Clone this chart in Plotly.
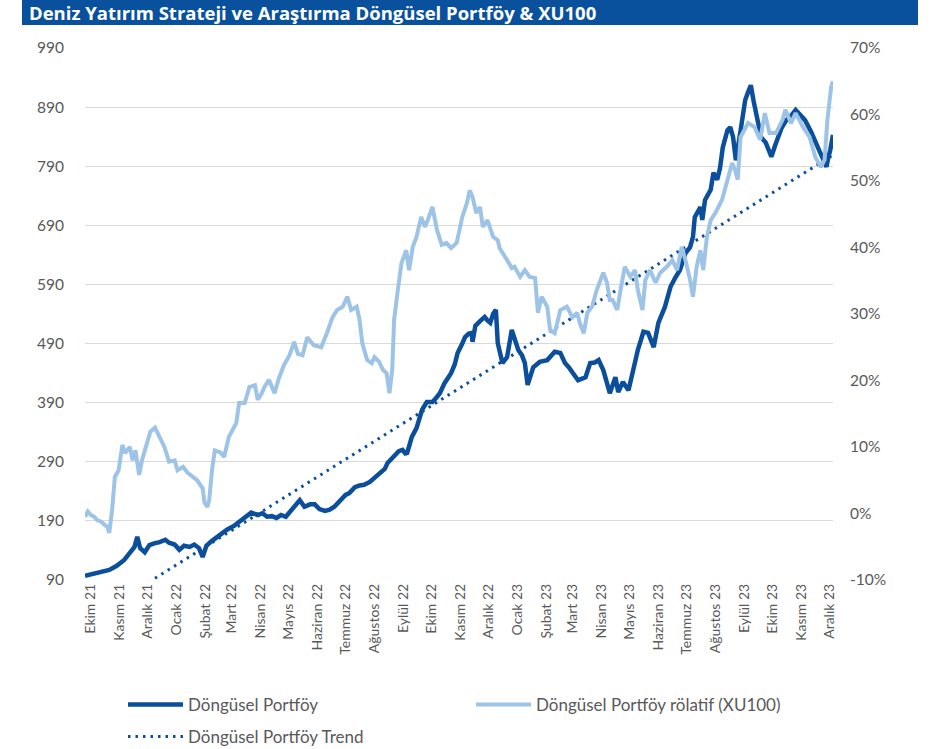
import plotly.graph_objects as go

# ---------------- data ----------------
month_labels = ["Ekim 21", "Kasım 21", "Aralık 21", "Ocak 22", "Şubat 22", "Mart 22", "Nisan 22",
                "Mayıs 22", "Haziran 22", "Temmuz 22", "Ağustos 22", "Eylül 22", "Ekim 22",
                "Kasım 22", "Aralık 22", "Ocak 23", "Şubat 23", "Mart 23", "Nisan 23", "Mayıs 23",
                "Haziran 23", "Temmuz 23", "Ağustos 23", "Eylül 23", "Ekim 23", "Kasım 23", "Aralık 23"]
month_dates = ["2021-10-01", "2021-11-01", "2021-12-01", "2022-01-01", "2022-02-01", "2022-03-01",
               "2022-04-01", "2022-05-01", "2022-06-01", "2022-07-01", "2022-08-01", "2022-09-01",
               "2022-10-01", "2022-11-01", "2022-12-01", "2023-01-01", "2023-02-01", "2023-03-01",
               "2023-04-01", "2023-05-01", "2023-06-01", "2023-07-01", "2023-08-01", "2023-09-01",
               "2023-10-01", "2023-11-01", "2023-12-01"]

left_ticks = [90, 190, 290, 390, 490, 590, 690, 790, 890, 990]
right_ticks = [-10, 0, 10, 20, 30, 40, 50, 60, 70]
right_labels = ["-10%", "0%", "10%", "20%", "30%", "40%", "50%", "60%", "70%"]

portfoy_dates = [
    "2021-09-25", "2021-10-02", "2021-10-11", "2021-10-21", "2021-10-29", "2021-11-06", "2021-11-12",
    "2021-11-17", "2021-11-20", "2021-11-23", "2021-11-28", "2021-12-03", "2021-12-08", "2021-12-14",
    "2021-12-20", "2021-12-24", "2021-12-30", "2022-01-04", "2022-01-09", "2022-01-15", "2022-01-20",
    "2022-01-25", "2022-01-29", "2022-02-02", "2022-02-07", "2022-02-13", "2022-02-18", "2022-02-24",
    "2022-03-04", "2022-03-12", "2022-03-18", "2022-03-22", "2022-03-29", "2022-04-03", "2022-04-08",
    "2022-04-13", "2022-04-18", "2022-04-23", "2022-04-28", "2022-05-04", "2022-05-09", "2022-05-13",
    "2022-05-18", "2022-05-24", "2022-05-29", "2022-06-03", "2022-06-09", "2022-06-14", "2022-06-19",
    "2022-06-27", "2022-07-01", "2022-07-05", "2022-07-11", "2022-07-16", "2022-07-21", "2022-07-27",
    "2022-08-01", "2022-08-06", "2022-08-12", "2022-08-15", "2022-08-19", "2022-08-22", "2022-08-27",
    "2022-08-31", "2022-09-03", "2022-09-05", "2022-09-10", "2022-09-15", "2022-09-18", "2022-09-21",
    "2022-09-26", "2022-10-02", "2022-10-06", "2022-10-10", "2022-10-15", "2022-10-22", "2022-10-26",
    "2022-10-29", "2022-11-03", "2022-11-06", "2022-11-10", "2022-11-13", "2022-11-14", "2022-11-17",
    "2022-11-22", "2022-11-27", "2022-11-30", "2022-12-03", "2022-12-06", "2022-12-09", "2022-12-11",
    "2022-12-14", "2022-12-16", "2022-12-21", "2022-12-26", "2023-01-02", "2023-01-06", "2023-01-09",
    "2023-01-12", "2023-01-18", "2023-01-22", "2023-01-25", "2023-02-02", "2023-02-06", "2023-02-10",
    "2023-02-16", "2023-02-21", "2023-02-25", "2023-03-01", "2023-03-07", "2023-03-15", "2023-03-20",
    "2023-03-25", "2023-03-29", "2023-04-03", "2023-04-06", "2023-04-10", "2023-04-16", "2023-04-19",
    "2023-04-24", "2023-04-30", "2023-05-05", "2023-05-10", "2023-05-16", "2023-05-21", "2023-05-27",
    "2023-06-01", "2023-06-08", "2023-06-14", "2023-06-19", "2023-06-24", "2023-06-30", "2023-07-05",
    "2023-07-08", "2023-07-10", "2023-07-16", "2023-07-18", "2023-07-21", "2023-07-27", "2023-07-30",
    "2023-08-03", "2023-08-06", "2023-08-09", "2023-08-14", "2023-08-17", "2023-08-20", "2023-08-23",
    "2023-08-28", "2023-09-02", "2023-09-05", "2023-09-08", "2023-09-11", "2023-09-15", "2023-09-19",
    "2023-09-24", "2023-09-30", "2023-10-04", "2023-10-07", "2023-10-11", "2023-10-16", "2023-10-21",
    "2023-10-26", "2023-10-31", "2023-11-05", "2023-11-11", "2023-11-14", "2023-11-18", "2023-11-21",
    "2023-11-25", "2023-11-28", "2023-11-30", "2023-12-02", "2023-12-05"]
portfoy_values = [
    97, 100, 102, 107, 114, 124, 136,
    146, 163, 144, 137, 149, 152, 154,
    158, 153, 150, 141, 148, 146, 150,
    144, 129, 148, 155, 163, 168, 175,
    182, 192, 200, 204, 200, 203, 197,
    198, 195, 200, 197, 209, 218, 225,
    214, 218, 218, 210, 207, 209, 214,
    229, 234, 237, 247, 250, 251, 256,
    263, 268, 278, 288, 294, 298, 308,
    310, 304, 305, 332, 347, 360, 378,
    391, 391, 398, 406, 423, 440, 455,
    474, 490, 501, 507, 508, 493, 520,
    528, 535, 529, 525, 540, 547, 491,
    470, 457, 467, 513, 479, 470, 457,
    420, 450, 455, 459, 462, 470, 476,
    474, 457, 450, 442, 428, 433, 457,
    458, 462, 445, 425, 406, 433, 408,
    425, 411, 445, 479, 510, 508, 484,
    525, 552, 586, 601, 614, 643, 653,
    670, 704, 721, 699, 733, 750, 779,
    767, 787, 822, 851, 856, 839, 800,
    850, 902, 915, 927, 900, 870, 839,
    830, 806, 825, 839, 855, 868, 875,
    885, 875, 868, 850, 839, 825, 812,
    800, 789, 805, 817, 843]

rolatif_dates = [
    "2021-09-25", "2021-09-28", "2021-10-01", "2021-10-05", "2021-10-08", "2021-10-12", "2021-10-16",
    "2021-10-19", "2021-10-21", "2021-10-24", "2021-10-27", "2021-10-31", "2021-11-04", "2021-11-07",
    "2021-11-12", "2021-11-15", "2021-11-18", "2021-11-22", "2021-11-25", "2021-12-01", "2021-12-04",
    "2021-12-09", "2021-12-14", "2021-12-19", "2021-12-24", "2021-12-30", "2022-01-02", "2022-01-08",
    "2022-01-13", "2022-01-18", "2022-01-23", "2022-01-29", "2022-01-31", "2022-02-03", "2022-02-05",
    "2022-02-08", "2022-02-11", "2022-02-17", "2022-02-21", "2022-02-26", "2022-03-06", "2022-03-09",
    "2022-03-15", "2022-03-20", "2022-03-26", "2022-03-29", "2022-04-02", "2022-04-05", "2022-04-10",
    "2022-04-16", "2022-04-21", "2022-04-26", "2022-05-02", "2022-05-07", "2022-05-11", "2022-05-16",
    "2022-05-21", "2022-05-28", "2022-06-05", "2022-06-11", "2022-06-17", "2022-06-22", "2022-06-28",
    "2022-07-03", "2022-07-07", "2022-07-13", "2022-07-16", "2022-07-19", "2022-07-24", "2022-07-29",
    "2022-08-01", "2022-08-06", "2022-08-10", "2022-08-14", "2022-08-17", "2022-08-20", "2022-08-22",
    "2022-08-26", "2022-08-30", "2022-09-04", "2022-09-07", "2022-09-11", "2022-09-15", "2022-09-20",
    "2022-09-24", "2022-09-27", "2022-10-02", "2022-10-07", "2022-10-12", "2022-10-17", "2022-10-22",
    "2022-10-28", "2022-10-31", "2022-11-03", "2022-11-08", "2022-11-11", "2022-11-14", "2022-11-18",
    "2022-11-22", "2022-11-25", "2022-11-30", "2022-12-06", "2022-12-11", "2022-12-13", "2022-12-21",
    "2022-12-26", "2022-12-29", "2023-01-04", "2023-01-09", "2023-01-14", "2023-01-20", "2023-01-23",
    "2023-01-27", "2023-02-02", "2023-02-05", "2023-02-10", "2023-02-16", "2023-02-23", "2023-03-01",
    "2023-03-06", "2023-03-09", "2023-03-13", "2023-03-17", "2023-03-22", "2023-03-27", "2023-04-03",
    "2023-04-07", "2023-04-10", "2023-04-13", "2023-04-18", "2023-04-21", "2023-04-26", "2023-05-02",
    "2023-05-07", "2023-05-10", "2023-05-15", "2023-05-18", "2023-05-23", "2023-05-29", "2023-06-03",
    "2023-06-10", "2023-06-16", "2023-06-21", "2023-06-26", "2023-06-30", "2023-07-05", "2023-07-08",
    "2023-07-12", "2023-07-16", "2023-07-19", "2023-07-23", "2023-07-27", "2023-08-01", "2023-08-04",
    "2023-08-08", "2023-08-11", "2023-08-15", "2023-08-19", "2023-08-22", "2023-08-25", "2023-08-28",
    "2023-09-05", "2023-09-12", "2023-09-18", "2023-09-23", "2023-09-28", "2023-10-05", "2023-10-12",
    "2023-10-15", "2023-10-21", "2023-10-26", "2023-11-03", "2023-11-10", "2023-11-16", "2023-11-22",
    "2023-11-26", "2023-11-29", "2023-12-03", "2023-12-05"]
rolatif_values = [
    -0.5, 0.3, -0.2, -0.5, -1.0, -1.2, -1.7,
    -2.0, -2.9, 0.5, 5.5, 6.5, 10.3, 9.1,
    10.0, 8.0, 9.5, 5.8, 8.0, 10.6, 12.3,
    12.9, 11.5, 10.0, 7.8, 8.0, 6.5, 7.0,
    6.1, 5.5, 5.0, 3.8, 1.6, 1.0, 2.0,
    6.5, 9.5, 9.2, 8.5, 11.5, 13.6, 16.6,
    16.6, 19.0, 19.3, 17.1, 18.0, 19.0, 20.1,
    18.1, 20.5, 22.3, 23.8, 25.8, 24.0, 23.8,
    26.5, 25.3, 25.0, 27.1, 29.5, 30.6, 31.1,
    32.6, 30.6, 31.1, 29.1, 25.6, 23.1, 22.6,
    23.5, 22.8, 21.6, 21.1, 18.1, 21.6, 29.1,
    33.6, 37.7, 39.6, 36.6, 40.1, 41.6, 44.6,
    43.1, 44.1, 46.1, 42.6, 40.4, 40.7, 39.9,
    40.7, 42.9, 44.6, 46.7, 48.6, 47.6, 45.2,
    46.1, 43.1, 44.1, 41.6, 41.1, 39.9, 38.1,
    36.9, 37.1, 35.6, 36.6, 35.6, 35.4, 30.2,
    32.6, 31.1, 27.6, 27.1, 30.6, 31.1, 29.5,
    30.2, 28.6, 27.1, 30.2, 31.1, 33.6, 36.2,
    34.7, 32.1, 32.1, 30.6, 33.2, 37.1, 35.6,
    36.6, 33.6, 30.6, 35.1, 36.6, 34.7, 36.2,
    37.1, 38.1, 36.6, 40.1, 38.1, 35.1, 32.6,
    37.1, 39.6, 36.6, 41.6, 44.1, 45.2, 46.1,
    47.1, 48.6, 50.6, 52.7, 51.7, 50.2, 56.6,
    58.7, 58.1, 56.2, 60.2, 57.2, 57.2, 59.2,
    60.7, 58.7, 60.2, 58.1, 56.6, 53.6, 52.1,
    53.2, 59.2, 64.1, 65.0]

trend_dates = ["2021-09-25", "2023-12-05"]
trend_values = [19, 809]

# ---------------- styles ----------------
DARK = "#0b4f9c"
LIGHT = "#9dc3e6"
GREY = "#595959"
FONT = "Lato, Carlito, Open Sans, sans-serif"

fig = go.Figure()

fig.add_trace(go.Scatter(
    x=portfoy_dates, y=portfoy_values, name="Döngüsel Portföy",
    mode="lines", line=dict(color=DARK, width=4.5), legend="legend"))

fig.add_trace(go.Scatter(
    x=trend_dates, y=trend_values, name="Döngüsel Portföy Trend",
    mode="lines", line=dict(color=DARK, width=3, dash="2.5px,5px"), legend="legend2"))

fig.add_trace(go.Scatter(
    x=rolatif_dates, y=rolatif_values, name="Döngüsel Portföy rölatif (XU100)",
    mode="lines", line=dict(color=LIGHT, width=4), yaxis="y2", legend="legend3"))

L, R, T, B = 85, 98, 48, 169
W, H = 931, 749
pw, ph = W - L - R, H - T - B

def px_x(x):
    return (x - L) / pw

def px_y(y):
    return 1 - (y - T) / ph

legend_font = dict(size=17, color=GREY, family=FONT)

def legend_box(x_line_start, y_center):
    return dict(orientation="h", x=px_x(x_line_start - 7), xanchor="left",
                y=px_y(y_center), yanchor="middle", itemwidth=55,
                font=legend_font, bgcolor="rgba(0,0,0,0)")

fig.update_layout(
    width=W, height=H,
    margin=dict(l=L, r=R, t=T, b=B, autoexpand=False),
    paper_bgcolor="white", plot_bgcolor="white",
    font=dict(family=FONT, color=GREY, size=15),
    showlegend=True,
    xaxis=dict(
        type="date", range=["2021-09-25", "2023-12-05"],
        tickvals=month_dates, ticktext=month_labels, tickangle=-90,
        showgrid=False, zeroline=False, showline=False, ticks="",
        tickfont=dict(size=14, color=GREY, family=FONT),
    ),
    yaxis=dict(
        range=[90, 990], tickvals=left_ticks, showgrid=True, gridcolor="#d9d9d9", gridwidth=1,
        zeroline=False, showline=False, ticks="", ticklabelstandoff=20,
        tickfont=dict(size=15.5, color=GREY, family=FONT),
    ),
    yaxis2=dict(
        range=[-10, 70], tickvals=right_ticks, ticktext=right_labels, overlaying="y", side="right",
        showgrid=False, zeroline=False, showline=False, ticks="", ticklabelstandoff=16,
        tickfont=dict(size=15.5, color=GREY, family=FONT),
    ),
    legend=legend_box(130, 705),
    legend3=legend_box(478, 705),
    legend2=legend_box(130, 737),
    shapes=[dict(type="rect", xref="paper", yref="paper",
                 x0=px_x(22), x1=px_x(918), y0=px_y(25), y1=px_y(0),
                 fillcolor="#0a519d", line=dict(width=0), layer="below")],
    annotations=[dict(text="<b>Deniz Yatırım Strateji ve Araştırma Döngüsel Portföy & XU100</b>",
                      xref="paper", yref="paper", x=px_x(27), y=px_y(12.5),
                      xanchor="left", yanchor="middle", showarrow=False,
                      font=dict(size=18.5, color="white", family="Open Sans, sans-serif"))],
)

fig.write_html("out.html", config={"displayModeBar": False},
               post_script="document.body.style.margin='0px';")
